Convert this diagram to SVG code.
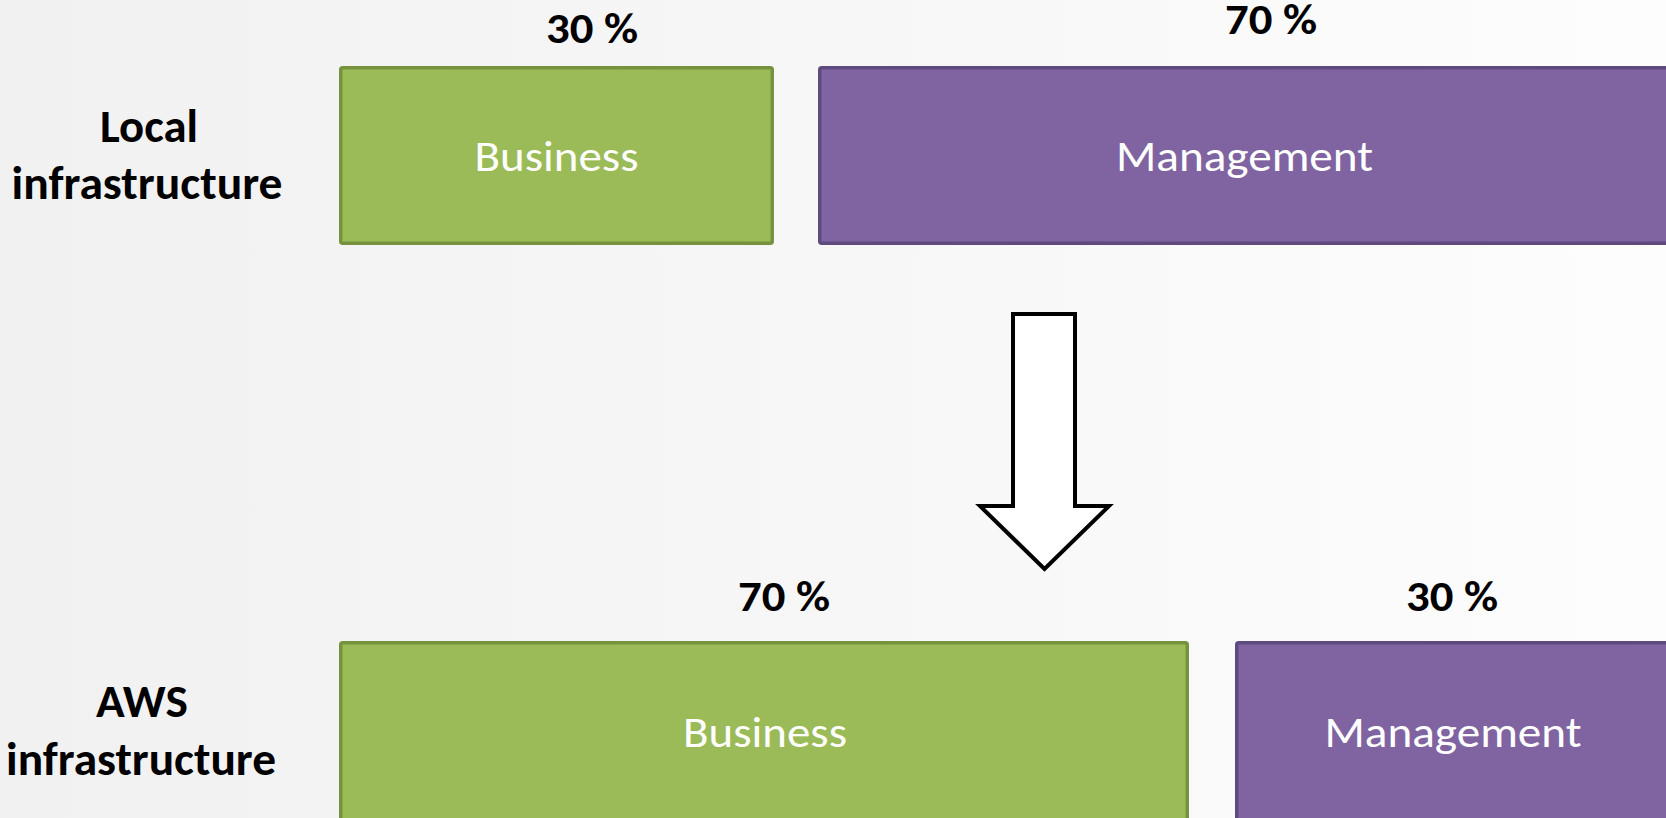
<svg xmlns="http://www.w3.org/2000/svg" width="1666" height="818" viewBox="0 0 1666 818">
<defs>
<linearGradient id="bg" x1="0" y1="0" x2="1" y2="0">
<stop offset="0" stop-color="#f1f1f1"/>
<stop offset="0.19" stop-color="#f3f3f3"/>
<stop offset="1" stop-color="#fdfdfd"/>
</linearGradient>
<style>
.lbl{font-family:Carlito,"Liberation Sans",Arial,sans-serif;font-weight:bold;font-size:46px;fill:#000;text-anchor:middle}
.pct{font-family:Carlito,"Liberation Sans",Arial,sans-serif;font-weight:bold;font-size:42px;fill:#000;text-anchor:middle}
.box{font-family:Carlito,"Liberation Sans",Arial,sans-serif;font-size:44px;fill:#fff;text-anchor:middle}
.green{fill:#9bbb59;stroke:#76923c;stroke-width:3.5}
.purple{fill:#8064a2;stroke:#5f4a7f;stroke-width:3.5}
.arrow{fill:#fff;stroke:#000;stroke-width:4;stroke-linejoin:miter}
</style>
</defs>
<rect x="0" y="0" width="1666" height="818" fill="url(#bg)"/>
<g id="label-local">
<text class="lbl" x="149" y="142" textLength="98" lengthAdjust="spacingAndGlyphs">Local</text>
<text class="lbl" x="147" y="199" textLength="271" lengthAdjust="spacingAndGlyphs">infrastructure</text>
</g>
<g id="label-aws">
<text class="lbl" x="142" y="717" textLength="92" lengthAdjust="spacingAndGlyphs">AWS</text>
<text class="lbl" x="141" y="775" textLength="270" lengthAdjust="spacingAndGlyphs">infrastructure</text>
</g>
<g id="local-business">
<text class="pct" x="592" y="43" textLength="92" lengthAdjust="spacingAndGlyphs">30 %</text>
<rect class="green" x="340.75" y="67.75" width="431.5" height="175.5" rx="2"/>
<text class="box" x="556.5" y="171" textLength="164" lengthAdjust="spacingAndGlyphs">Business</text>
</g>
<g id="local-management">
<text class="pct" x="1271" y="34" textLength="92" lengthAdjust="spacingAndGlyphs">70 %</text>
<rect class="purple" x="819.75" y="67.75" width="860" height="175.5" rx="2"/>
<text class="box" x="1244.5" y="171" textLength="257" lengthAdjust="spacingAndGlyphs">Management</text>
</g>
<g id="aws-business">
<text class="pct" x="784" y="611" textLength="92" lengthAdjust="spacingAndGlyphs">70 %</text>
<rect class="green" x="340.75" y="642.75" width="846.5" height="200" rx="2"/>
<text class="box" x="765" y="747" textLength="164" lengthAdjust="spacingAndGlyphs">Business</text>
</g>
<g id="aws-management">
<text class="pct" x="1452" y="611" textLength="92" lengthAdjust="spacingAndGlyphs">30 %</text>
<rect class="purple" x="1236.75" y="642.75" width="460" height="200" rx="2"/>
<text class="box" x="1453" y="747" textLength="257" lengthAdjust="spacingAndGlyphs">Management</text>
</g>
<g id="connectors">
<polygon class="arrow" points="1013,314 1075,314 1075,506 1109,506 1044.5,569 980,506 1013,506"/>
</g>
</svg>
